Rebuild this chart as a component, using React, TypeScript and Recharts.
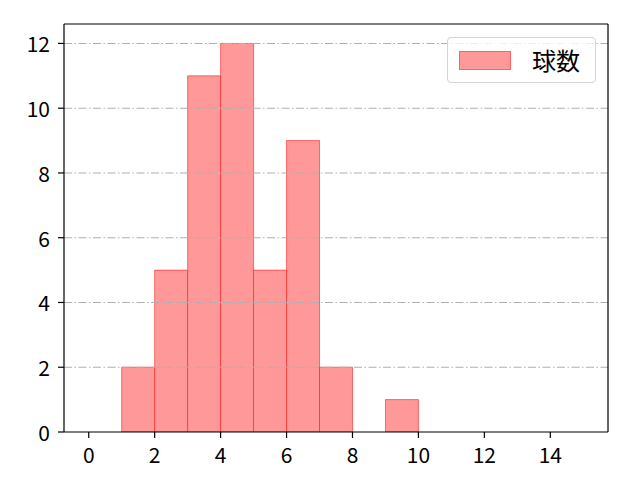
import React from 'react';
import { ComposedChart, Bar, XAxis, YAxis, ReferenceLine } from 'recharts';

const binCenters = [1.5, 2.5, 3.5, 4.5, 5.5, 6.5, 7.5, 8.5, 9.5];
const counts = [2, 5, 11, 12, 5, 9, 2, 0, 1];
const xTicks = [0, 2, 4, 6, 8, 10, 12, 14];
const yTicks = [0, 2, 4, 6, 8, 10, 12];
const seriesName = '球数';

const data = binCenters.map((x, i) => ({ x, count: counts[i] }));

const W = 640;
const H = 480;
const M = { top: 24, right: 32, bottom: 0, left: 0 };
const Y_W = 64;
const X_H = 48;
const X_DOMAIN: [number, number] = [-0.75, 15.75];
const Y_DOMAIN: [number, number] = [0, 12.6];

const FONT = '"Noto Sans CJK JP", sans-serif';
const FS = 21;

const XTick = (props: any) => {
  const { x, y, payload } = props;
  return (
    <text x={x} y={y + 4} textAnchor="middle" dominantBaseline="hanging" fontFamily={FONT} fontSize={FS} fill="#000">
      {payload.value}
    </text>
  );
};

const YTick = (props: any) => {
  const { x, y, payload } = props;
  return (
    <text x={x - 6} y={y} textAnchor="end" dominantBaseline="central" fontFamily={FONT} fontSize={FS} fill="#000">
      {payload.value}
    </text>
  );
};

const LegendBox = () => (
  <div
    style={{
      position: 'absolute',
      left: 447,
      top: 37,
      width: 149,
      height: 46,
      boxSizing: 'border-box',
      border: '1px solid #d4d4d4',
      borderRadius: 4,
      background: 'rgba(255,255,255,0.8)',
      display: 'flex',
      alignItems: 'center',
      fontFamily: FONT,
      fontSize: 24,
    }}
  >
    <div
      style={{
        marginLeft: 11,
        width: 52,
        height: 19,
        boxSizing: 'border-box',
        background: '#ff9999',
        border: '1px solid rgba(255,0,0,0.35)',
      }}
    />
    <span style={{ marginLeft: 21, lineHeight: 1 }}>{seriesName}</span>
  </div>
);

const axisStroke = { stroke: '#000', strokeWidth: 1.2 };

export default function App() {
  return (
    <div style={{ position: 'absolute', left: 0, top: 0, width: W, height: H, background: '#fff' }}>
      <ComposedChart width={W} height={H} data={data} margin={M} barCategoryGap={0} barGap={0}>
        <XAxis
          xAxisId="b"
          type="number"
          dataKey="x"
          domain={X_DOMAIN}
          ticks={xTicks}
          allowDataOverflow
          height={X_H}
          tick={<XTick />}
          tickSize={6}
          axisLine={axisStroke}
          tickLine={axisStroke}
        />
        <YAxis
          yAxisId="l"
          type="number"
          domain={Y_DOMAIN}
          ticks={yTicks}
          allowDataOverflow
          width={Y_W}
          tick={<YTick />}
          tickSize={6}
          axisLine={axisStroke}
          tickLine={axisStroke}
        />
        <Bar
          xAxisId="b"
          yAxisId="l"
          dataKey="count"
          name={seriesName}
          fill="#ff9999"
          stroke="rgba(255,0,0,0.5)"
          strokeWidth={1}
          isAnimationActive={false}
        />
        {yTicks.slice(1).map((v) => (
          <ReferenceLine
            key={v}
            xAxisId="b"
            yAxisId="l"
            y={v}
            stroke="#b0b0b0"
            strokeWidth={1.1}
            strokeDasharray="8 2.5 1.5 2.5"
          />
        ))}
        <ReferenceLine xAxisId="b" yAxisId="l" y={Y_DOMAIN[1]} stroke="#000" strokeWidth={1.2} />
        <ReferenceLine xAxisId="b" yAxisId="l" x={X_DOMAIN[1]} stroke="#000" strokeWidth={1.2} />
      </ComposedChart>
      <LegendBox />
    </div>
  );
}
